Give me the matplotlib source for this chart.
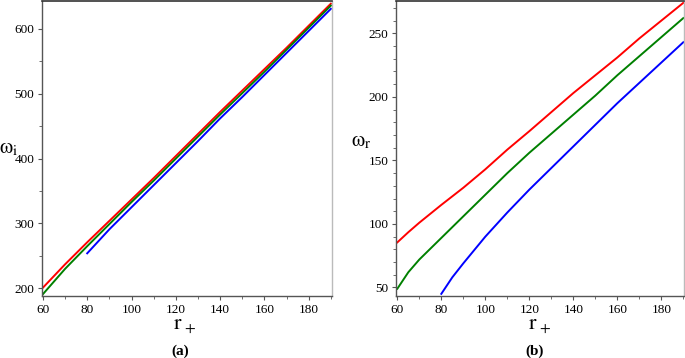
import matplotlib
matplotlib.use("Agg")
import matplotlib.pyplot as plt
from matplotlib.ticker import MultipleLocator

plt.rcParams['font.family'] = ['Liberation Serif', 'DejaVu Serif']
plt.rcParams['mathtext.fontset'] = 'stix'

# Panel (a): omega_i vs r_+
r_a = [60, 70, 80, 90, 100, 110, 120, 130, 140, 150, 160, 170, 180, 190]
wi_red = [201, 237, 271, 304, 337, 370, 404, 438, 472, 505, 538, 571, 605, 639]
wi_green = [191, 230, 265, 299, 333, 366, 400, 434, 468, 501, 534, 568, 602, 636]
r_a_blue = [80, 90, 100, 110, 120, 130, 140, 150, 160, 170, 180, 190]
wi_blue = [254, 291, 325, 359, 393, 427, 462, 495, 529, 563, 597, 631]

# Panel (b): omega_r vs r_+
r_b = [60, 65, 70, 80, 90, 100, 110, 120, 130, 140, 150, 160, 170, 180, 190]
wr_red = [85.5, 93.5, 101, 115, 128.5, 143, 158.5, 173, 188, 203, 217, 231, 246, 260, 274]
wr_green = [49, 62, 72, 89, 106, 123, 140, 156, 171, 186, 201, 217, 232, 247, 262]
r_b_blue = [80, 85, 90, 100, 110, 120, 130, 140, 150, 160, 170, 180, 190]
wr_blue = [45, 58, 69, 90, 109, 127, 144, 161, 178, 195, 211, 227, 243]

fig = plt.figure(figsize=(6.85, 3.58), dpi=100)
axA = fig.add_axes([42/685, 1-296/358, 290/685, 296/358 - 0.002])
axB = fig.add_axes([396/685, 1-296/358, 287.5/685, 296/358 - 0.002])

lw = 1.4
axA.plot(r_a, wi_red, color='#ff0000', lw=lw)
axA.plot(r_a, wi_green, color='#008000', lw=lw)
axA.plot(r_a_blue, wi_blue, color='#0000ff', lw=lw)

axB.plot(r_b, wr_red, color='#ff0000', lw=lw)
axB.plot(r_b, wr_green, color='#008000', lw=lw)
axB.plot(r_b_blue, wr_blue, color='#0000ff', lw=lw)

axA.set_xlim(59.6, 190.5)
axA.set_ylim(188.2, 643.5)
axB.set_xlim(59.4, 190.1)
axB.set_ylim(43.3, 275.7)

axA.xaxis.set_major_locator(MultipleLocator(20))
axA.xaxis.set_minor_locator(MultipleLocator(10))
axA.yaxis.set_major_locator(MultipleLocator(100))
axA.yaxis.set_minor_locator(MultipleLocator(50))
axB.xaxis.set_major_locator(MultipleLocator(20))
axB.xaxis.set_minor_locator(MultipleLocator(10))
axB.yaxis.set_major_locator(MultipleLocator(50))
axB.yaxis.set_minor_locator(MultipleLocator(10))

for ax in (axA, axB):
    ax.tick_params(which='major', direction='out', length=3, width=0.8,
                   color='#555555', labelsize=9.5, pad=2.5)
    ax.tick_params(which='minor', direction='out', length=2, width=0.6,
                   color='#555555')
    ax.spines['left'].set_color('#555555')
    ax.spines['bottom'].set_color('#555555')
    ax.spines['left'].set_linewidth(1.0)
    ax.spines['bottom'].set_linewidth(1.0)
    ax.spines['top'].set_color('#333333')
    ax.spines['top'].set_linewidth(1.2)
    ax.spines['right'].set_color('#bbbbbb')
    ax.spines['right'].set_linewidth(1.0)
    ax.set_xlabel(r'$\mathrm{r}_{\,+}$', fontsize=16)

axA.set_ylabel(r'$\mathrm{\omega}_{\mathrm{i}}$', fontsize=15, rotation=0)
axB.set_ylabel(r'$\mathrm{\omega}_{\mathrm{r}}$', fontsize=15, rotation=0)
axA.yaxis.set_label_coords(-0.115, 0.465)
axB.yaxis.set_label_coords(-0.122, 0.49)
axA.xaxis.set_label_coords(0.493, -0.07)
axB.xaxis.set_label_coords(0.50, -0.07)

fig.text(180/685, 1-351/358, '(a)', fontsize=11, fontweight='bold',
         ha='center', va='center')
fig.text(535/685, 1-351/358, '(b)', fontsize=11, fontweight='bold',
         ha='center', va='center')

fig.savefig('out.png', dpi=100)
